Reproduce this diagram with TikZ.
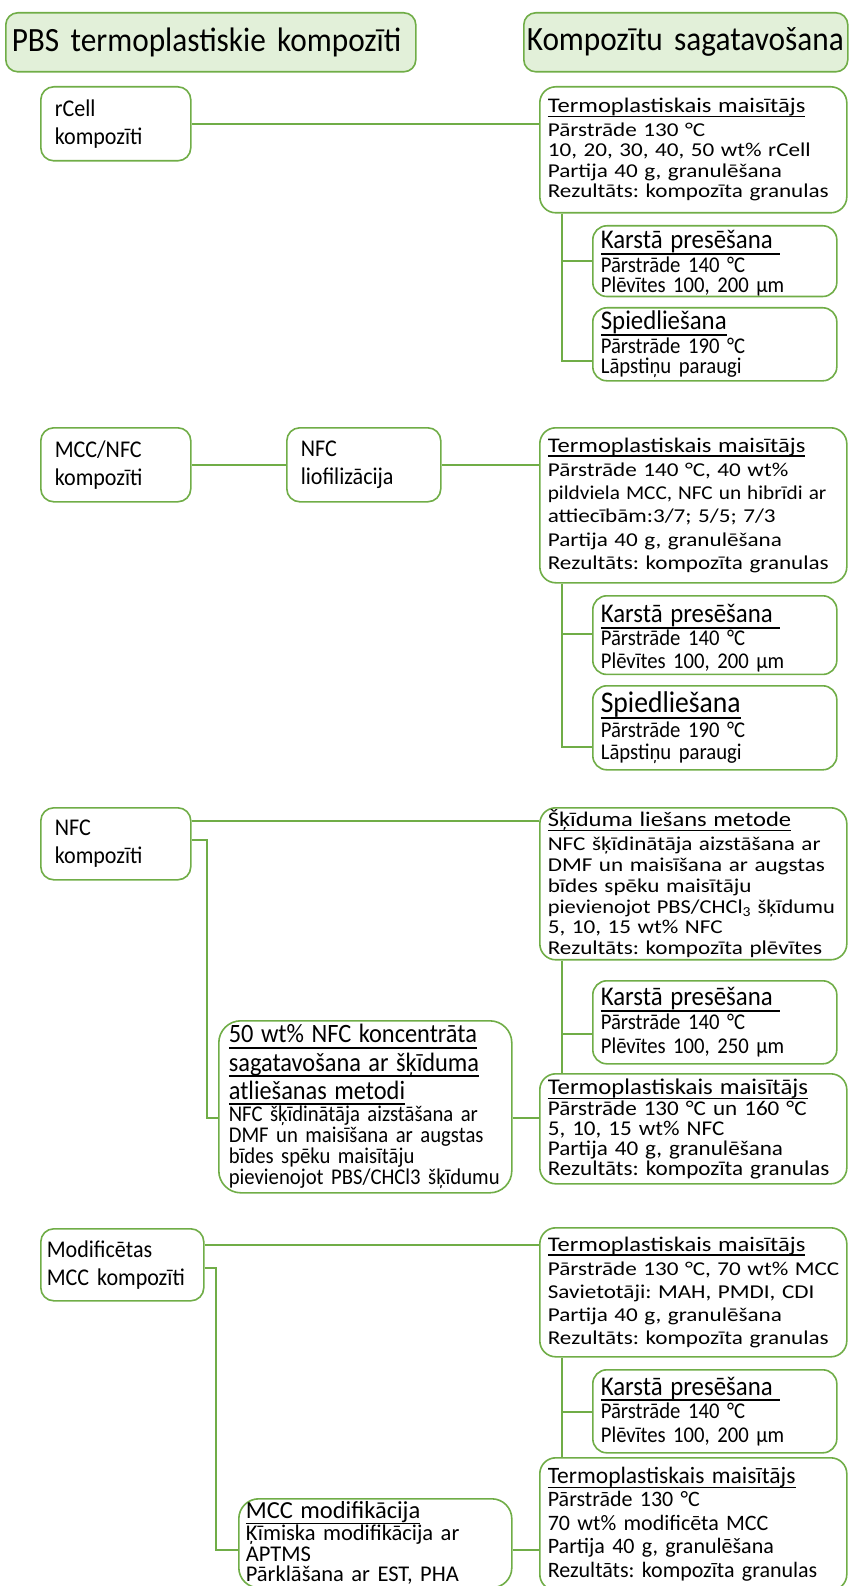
\documentclass[tikz,border=0pt]{standalone}
\usepackage{fontspec}
\usepackage{graphicx}
\setmainfont{Carlito}
\newfontfamily\nrw[FakeStretch=1.18]{Carlito}
\newfontfamily\mdw[FakeStretch=1.1]{Carlito}
\newfontfamily\cnd[FakeStretch=0.92]{Carlito}
\definecolor{grn}{RGB}{112,173,71}
\definecolor{hdr}{RGB}{226,240,217}
\newsavebox\ulbx
\newcommand\myul[1]{\leavevmode\sbox\ulbx{#1}\rlap{\rule[-0.22em]{\wd\ulbx}{0.07em}}\usebox\ulbx}
\newcommand\fs[2]{\fontsize{#1pt}{#2pt}\selectfont}
\newcommand\tstrut[1]{\rule{0pt}{#1pt}}
\newcommand\oneln[1]{\mbox{#1}}
\newcommand\sqz[2]{\scalebox{#1}[1]{#2}}
\hyphenpenalty=10000
\exhyphenpenalty=10000
\frenchspacing
\begin{document}
\begin{tikzpicture}[x=1pt,y=-1pt,
  bx/.style={draw=grn, line width=1.6pt, fill=white, anchor=north west, align=left,
    inner xsep=8pt, inner ysep=2pt, rounded corners=16pt},
  hd/.style={bx, fill=hdr, rounded corners=12pt, inner xsep=6pt, font=\cnd\fs{34}{36}},
  sm/.style={bx, rounded corners=13pt, inner xsep=14pt, font=\cnd\fs{24}{28}},
  kb/.style={bx, rounded corners=14pt, minimum width=244pt, text width=228pt},
  tb/.style={bx, minimum width=307pt, text width=291pt},
  conn/.style={draw=grn, line width=1.6pt}]
\useasboundingbox (0,0) rectangle (849,1586);

% headers
\node[hd, minimum width=410pt, text width=398pt, minimum height=59pt] (hl) at (5,12) {PBS termoplastiskie kompozīti};
\node[hd, inner xsep=3pt, minimum width=324pt, text width=318pt, minimum height=59pt] (hr) at (523,12) {Kompozītu sagatavošana};

% section 1
\node[sm, minimum width=150pt, text width=122pt, minimum height=74pt] (rcell) at (40,86) {rCell\\kompozīti};
\node[tb, minimum height=126pt, font=\nrw\fs{19.6}{20.5}] (termo1) at (539,86)
  {{\fs{20.8}{22}\myul{Termoplastiskais maisītājs}}\\[3pt]
   \oneln{Pārstrāde 130 °C}\\\oneln{10, 20, 30, 40, 50 wt\% rCell}\\\oneln{Partija 40 g, granulēšana}\\\oneln{Rezultāts: kompozīta granulas}};
\node[kb, inner ysep=0pt, minimum height=70pt, font=\cnd\fs{22.5}{20.5}] (karst1) at (592,225)
  {\tstrut{23}{\fs{27}{26}\myul{Karstā presēšana\ }}\\[1pt]Pārstrāde 140 °C\\Plēvītes 100, 200 µm};
\node[kb, minimum height=73pt, font=\cnd\fs{22.5}{20.5}] (spied1) at (592,307)
  {{\fs{27}{26}\myul{Spiedliešana}}\\[1pt]Pārstrāde 190 °C\\Lāpstiņu paraugi};

% section 2
\node[sm, minimum width=150pt, text width=122pt, minimum height=74pt] (mcc) at (40,427) {MCC/NFC\\kompozīti};
\node[sm, minimum width=154pt, text width=126pt, minimum height=74pt] (liof) at (286,427) {NFC\\liofilizācija};
\node[tb, minimum height=155pt, font=\nrw\fs{19.6}{23.3}] (termo2) at (539,427)
  {{\fs{20.8}{22}\myul{Termoplastiskais maisītājs}}\\[1pt]
   \oneln{Pārstrāde 140 °C, 40 wt\%}\\\sqz{0.92}{pildviela MCC, NFC un hibrīdi ar}\\\oneln{attiecībām:3/7; 5/5; 7/3}\\\oneln{Partija 40 g, granulēšana}\\\oneln{Rezultāts: kompozīta granulas}};
\node[kb, minimum height=78pt, font=\cnd\fs{22.5}{23}] (karst2) at (592,595)
  {\tstrut{25}{\fs{27}{26}\myul{Karstā presēšana\ }}\\Pārstrāde 140 °C\\Plēvītes 100, 200 µm};
\node[kb, minimum height=84pt, font=\cnd\fs{22.5}{22.5}] (spied2) at (592,685)
  {{\fs{30}{30}\myul{Spiedliešana}}\\[2pt]Pārstrāde 190 °C\\Lāpstiņu paraugi};

% section 3
\node[sm, minimum width=150pt, text width=122pt, minimum height=72pt] (nfc) at (40,807) {NFC\\kompozīti};
\node[tb, minimum height=149pt, font=\nrw\fs{19.6}{20.8}] (sk) at (539,807)
  {{\fs{20.8}{22}\myul{Šķīduma liešans metode}}\\[3pt]
   \oneln{NFC šķīdinātāja aizstāšana ar}\\\oneln{DMF un maisīšana ar augstas}\\\oneln{bīdes spēku maisītāju}\\\sqz{0.97}{pievienojot PBS/CHCl\textsubscript{3} šķīdumu}\\\oneln{5, 10, 15 wt\% NFC}\\\oneln{Rezultāts: kompozīta plēvītes}};
\node[kb, minimum height=83pt, font=\cnd\fs{22.5}{24}] (karst3) at (592,980)
  {{\fs{27}{26}\myul{Karstā presēšana\ }}\\Pārstrāde 140 °C\\Plēvītes 100, 250 µm};
\node[bx, rounded corners=22pt, minimum width=293pt, text width=273pt, inner xsep=10pt, minimum height=172pt, font=\cnd\fs{22.5}{21}] (conc) at (218,1020)
  {{\fs{26.5}{26}\myul{50 wt\% NFC koncentrāta}}\\[3pt]
   {\fs{26.5}{26}\myul{sagatavošana ar šķīduma}}\\[3pt]
   {\fs{26.5}{26}\myul{atliešanas metodi}}\\[0pt]
   \oneln{NFC šķīdinātāja aizstāšana ar}\\\oneln{DMF un maisīšana ar augstas}\\\oneln{bīdes spēku maisītāju}\\\oneln{pievienojot PBS/CHCl3 šķīdumu}};
\node[tb, minimum height=110pt, font=\mdw\fs{21}{20}] (termo3) at (539,1073)
  {{\fs{22.5}{24}\myul{Termoplastiskais maisītājs}}\\[1pt]
   \oneln{Pārstrāde 130 °C un 160 °C}\\\oneln{5, 10, 15 wt\% NFC}\\\oneln{Partija 40 g, granulēšana}\\\oneln{Rezultāts: kompozīta granulas}};

% section 4
\node[sm, inner xsep=6pt, minimum width=163pt, text width=151pt, minimum height=72pt] (modif) at (40,1228) {Modificētas\\MCC kompozīti};
\node[tb, minimum height=129pt, font=\nrw\fs{19.6}{23}] (termo4) at (539,1227)
  {{\fs{20.8}{22}\myul{Termoplastiskais maisītājs}}\\[1pt]
   \oneln{Pārstrāde 130 °C, 70 wt\% MCC}\\\oneln{Savietotāji: MAH, PMDI, CDI}\\\oneln{Partija 40 g, granulēšana}\\\oneln{Rezultāts: kompozīta granulas}};
\node[kb, minimum height=83pt, font=\cnd\fs{22.5}{23.5}] (karst4) at (592,1369)
  {{\fs{27}{26}\myul{Karstā presēšana\ }}\\Pārstrāde 140 °C\\Plēvītes 100, 200 µm};
\node[bx, rounded corners=20pt, minimum width=273pt, text width=259pt, inner xsep=7pt, inner ysep=3pt, font=\fs{22.5}{20.5}] (mccmod) at (238,1498)
  {{\fs{24.5}{26}\myul{MCC modifikācija}}\\Ķīmiska modifikācija ar\\APTMS\\Pārklāšana ar EST, PHA};
\node[tb, inner ysep=9pt, font=\fs{22}{23.6}] (termo5) at (539,1457)
  {{\fs{23.5}{26}\myul{Termoplastiskais maisītājs}}\\
   \oneln{Pārstrāde 130 °C}\\\oneln{70 wt\% modificēta MCC}\\\oneln{Partija 40 g, granulēšana}\\\oneln{Rezultāts: kompozīta granulas}};

% connectors section 1
\draw[conn] (rcell.east) -- (rcell.east -| termo1.west);
\coordinate (v1a) at (562,261);
\coordinate (v1b) at (562,361);
\draw[conn] (termo1.south -| v1a) -- (v1b) -- (v1b -| spied1.west);
\draw[conn] (v1a) -- (v1a -| karst1.west);

% section 2
\draw[conn] (mcc.east) -- (liof.west);
\draw[conn] (liof.east) -- (liof.east -| termo2.west);
\coordinate (v2a) at (562,634);
\coordinate (v2b) at (562,747);
\draw[conn] (termo2.south -| v2a) -- (v2b) -- (v2b -| spied2.west);
\draw[conn] (v2a) -- (v2a -| karst2.west);

% section 3
\coordinate (s3a) at (0,821);
\draw[conn] (nfc.east |- s3a) -- (sk.west |- s3a);
\coordinate (s3b) at (207,840);
\coordinate (s3c) at (207,1118);
\draw[conn] (nfc.east |- s3b) -- (s3b) -- (s3c) -- (conc.west |- s3c);
\draw[conn] (conc.east |- s3c) -- (termo3.west |- s3c);
\coordinate (v3a) at (562,1034);
\draw[conn] (sk.south -| v3a) -- (termo3.north -| v3a);
\draw[conn] (v3a) -- (karst3.west |- v3a);

% section 4
\coordinate (s4a) at (0,1245);
\draw[conn] (modif.east |- s4a) -- (termo4.west |- s4a);
\coordinate (s4b) at (216,1268);
\coordinate (s4c) at (216,1550);
\draw[conn] (modif.east |- s4b) -- (s4b) -- (s4c) -- (mccmod.west |- s4c);
\draw[conn] (mccmod.east |- s4c) -- (termo5.west |- s4c);
\coordinate (v4a) at (562,1412);
\draw[conn] (termo4.south -| v4a) -- (termo5.north -| v4a);
\draw[conn] (v4a) -- (karst4.west |- v4a);
\end{tikzpicture}
\end{document}
